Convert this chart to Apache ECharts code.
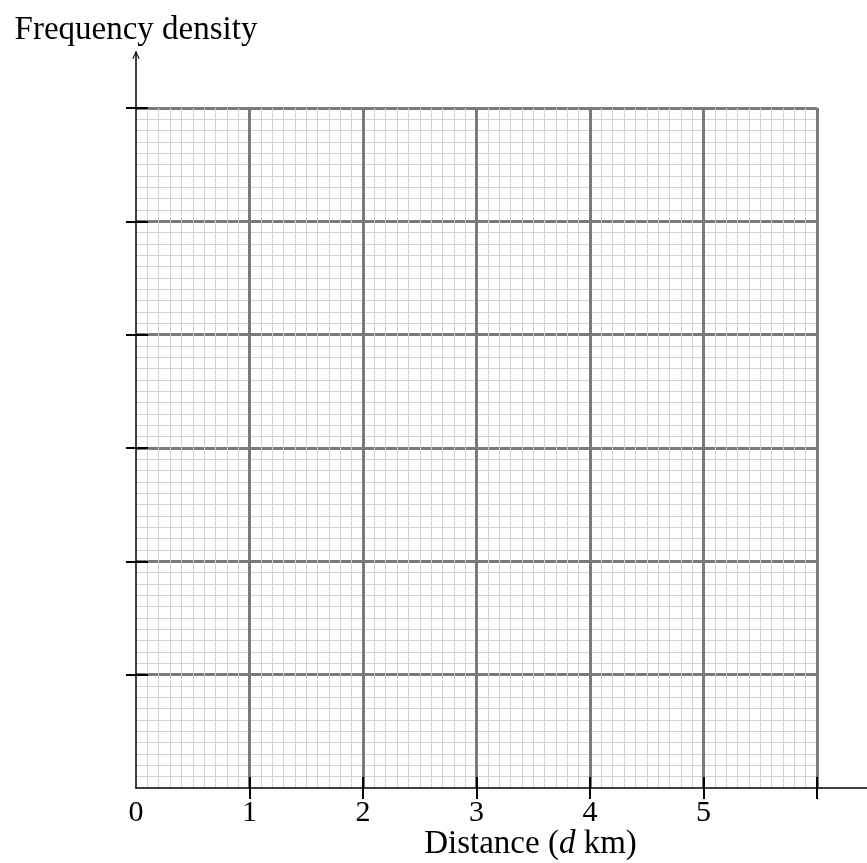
<!DOCTYPE html>
<html>
<head>
<meta charset="utf-8">
<script src="https://cdn.jsdelivr.net/npm/echarts@6/dist/echarts.min.js"></script>
<style>
  html, body { margin: 0; padding: 0; background: #fff; }
  #chart { width: 867px; height: 863px; }
</style>
</head>
<body>
<div id="chart"></div>
<script>
var myChart = echarts.init(document.getElementById('chart'));

// 坐标轴数据
var xMin = 0, xMax = 6;
var yMin = 0, yMax = 6;
var xLabelValues = [0, 1, 2, 3, 4, 5];
var xTickValues = [1, 2, 3, 4, 5, 6];
var yTickValues = [1, 2, 3, 4, 5, 6];
var xName = 'Distance ({i|d} km)';
var yName = 'Frequency density';

var font = 'Liberation Serif';
var majorColor = '#7a7a7a';
var minorColor = '#d2d2d2';

var option = {
	animation: false,
	grid: [
		// 方格纸
		{ left: 136, top: 108, width: 681, height: 680, outerBoundsMode: 'none' },
		// 坐标轴线（延伸出方格纸）
		{ left: 136, top: 52, right: 0, bottom: 75, outerBoundsMode: 'none' }
	],
	xAxis: [
		{
			gridIndex: 0,
			type: 'value',
			min: xMin,
			max: xMax,
			interval: 1,
			axisLine: { show: false },
			axisTick: {
				show: true,
				inside: true,
				length: 11,
				customValues: xTickValues,
				lineStyle: { color: '#000', width: 2 }
			},
			axisLabel: {
				show: true,
				customValues: xLabelValues,
				margin: 10,
				color: '#000',
				fontFamily: font,
				fontSize: 30
			},
			splitLine: { show: true, lineStyle: { color: majorColor, width: 3 } },
			minorTick: { show: false, splitNumber: 10 },
			minorSplitLine: { show: true, lineStyle: { color: minorColor, width: 1 } },
			name: xName,
			nameLocation: 'middle',
			nameGap: 40,
			nameMoveOverlap: false,
			nameTextStyle: {
				color: '#000',
				fontFamily: font,
				fontSize: 33,
				padding: [0, 0, 0, 108],
				rich: {
					i: { fontFamily: font, fontSize: 33, fontStyle: 'italic', color: '#000' }
				}
			}
		},
		{
			gridIndex: 1,
			type: 'value',
			min: 0,
			max: 1,
			axisLine: { show: true, lineStyle: { color: '#000', width: 1.5 } },
			axisTick: { show: false },
			axisLabel: { show: false },
			splitLine: { show: false }
		},
		{
			gridIndex: 0,
			type: 'value',
			position: 'bottom',
			min: xMin,
			max: xMax,
			interval: 1,
			axisLine: { show: false },
			axisTick: {
				show: true,
				inside: false,
				length: 11,
				customValues: xTickValues,
				lineStyle: { color: '#000', width: 2 }
			},
			axisLabel: { show: false },
			splitLine: { show: false }
		}
	],
	yAxis: [
		{
			gridIndex: 0,
			type: 'value',
			min: yMin,
			max: yMax,
			interval: 1,
			axisLine: { show: false },
			axisTick: {
				show: true,
				inside: true,
				length: 12,
				customValues: yTickValues,
				lineStyle: { color: '#000', width: 2 }
			},
			axisLabel: { show: false },
			splitLine: { show: true, lineStyle: { color: majorColor, width: 3 } },
			minorTick: { show: false, splitNumber: 10 },
			minorSplitLine: { show: true, lineStyle: { color: minorColor, width: 1 } }
		},
		{
			gridIndex: 1,
			type: 'value',
			min: 0,
			max: 1,
			axisLine: {
				show: true,
				symbol: ['none', 'path://M0,10 L5,0 L10,10 L8.6,10.8 L5,2.8 L1.4,10.8 Z'],
				symbolSize: [10, 8],
				symbolOffset: [0, -3],
				lineStyle: { color: '#000', width: 1.5 }
			},
			axisTick: { show: false },
			axisLabel: { show: false },
			splitLine: { show: false },
			name: yName,
			nameLocation: 'end',
			nameGap: 5,
			nameTextStyle: {
				color: '#000',
				fontFamily: font,
				fontSize: 33
			}
		},
		{
			gridIndex: 0,
			type: 'value',
			position: 'left',
			min: yMin,
			max: yMax,
			interval: 1,
			axisLine: { show: false },
			axisTick: {
				show: true,
				inside: false,
				length: 10,
				customValues: yTickValues,
				lineStyle: { color: '#000', width: 2 }
			},
			axisLabel: { show: false },
			splitLine: { show: false }
		}
	],
	series: []
};

myChart.setOption(option);

window.addEventListener('resize', function(){
	myChart.resize();
});
</script>
</body>
</html>
